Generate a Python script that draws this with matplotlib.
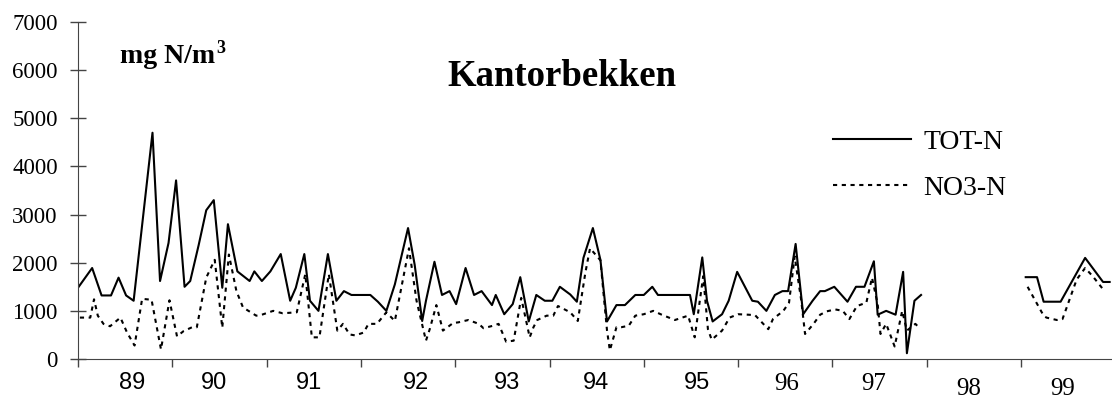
import numpy as np
import matplotlib
matplotlib.use("Agg")
import matplotlib.pyplot as plt
from matplotlib import transforms

nan = np.nan

# Kantorbekken: total nitrogen and nitrate, mg N/m3 (gap = no samples in 1998)
tot_t = [1989.00, 1989.15, 1989.25, 1989.35, 1989.43, 1989.51, 1989.59, 1989.79, 1989.87, 1989.96,
         1990.04, 1990.13, 1990.19, 1990.28, 1990.36, 1990.44, 1990.53, 1990.59, 1990.69, 1990.82, 1990.87, 1990.95,
         1991.04, 1991.15, 1991.25, 1991.31, 1991.40, 1991.46, 1991.55, 1991.65, 1991.74, 1991.82, 1991.90,
         1992.10, 1992.18, 1992.27, 1992.36, 1992.50, 1992.57, 1992.65, 1992.69, 1992.78, 1992.86, 1992.94,
         1993.01, 1993.11, 1993.20, 1993.28, 1993.39, 1993.43, 1993.52, 1993.61, 1993.69, 1993.78, 1993.86, 1993.95,
         1994.03, 1994.11, 1994.22, 1994.29, 1994.36, 1994.46, 1994.54, 1994.61, 1994.71, 1994.80, 1994.91,
         1995.00, 1995.09, 1995.15, 1995.49, 1995.53, 1995.62, 1995.67, 1995.73, 1995.83, 1995.90, 1995.99,
         1996.15, 1996.21, 1996.30, 1996.39, 1996.47, 1996.53, 1996.61, 1996.69, 1996.79, 1996.87, 1996.92,
         1997.02, 1997.16, 1997.25, 1997.34, 1997.44, 1997.48, 1997.57, 1997.67, 1997.75, 1997.79, 1997.87, 1997.94,
         nan,
         1999.05, 1999.17, 1999.24, 1999.42, 1999.68, 1999.87, 1999.94]
tot_n = [1480, 1890, 1320, 1320, 1690, 1320, 1210, 4700, 1620, 2410,
         3710, 1500, 1620, 2370, 3090, 3300, 1480, 2800, 1820, 1620, 1820, 1620,
         1820, 2180, 1210, 1480, 2180, 1210, 1000, 2180, 1210, 1410, 1330,
         1330, 1190, 1000, 1550, 2720, 1960, 790, 1210, 2020, 1330, 1410,
         1140, 1890, 1330, 1410, 1120, 1330, 930, 1140, 1700, 780, 1330, 1210,
         1210, 1500, 1340, 1190, 2100, 2720, 2060, 780, 1120, 1120, 1330,
         1330, 1500, 1330, 1330, 930, 2110, 1210, 780, 930, 1210, 1810,
         1210, 1190, 1000, 1330, 1410, 1410, 2390, 930, 1210, 1410, 1410,
         1500, 1190, 1500, 1500, 2030, 920, 1000, 920, 1810, 120, 1210, 1330,
         nan,
         1700, 1700, 1190, 1190, 2100, 1600, 1600]

no3_t = [1989.02, 1989.13, 1989.17, 1989.21, 1989.27, 1989.34, 1989.45, 1989.52, 1989.60, 1989.68, 1989.78, 1989.88, 1989.97,
         1990.05, 1990.12, 1990.21, 1990.26, 1990.36, 1990.45, 1990.53, 1990.60, 1990.68, 1990.75, 1990.89, 1990.95,
         1991.07, 1991.17, 1991.32, 1991.41, 1991.48, 1991.56, 1991.66, 1991.75, 1991.81, 1991.88, 1991.94,
         1992.03, 1992.08, 1992.17, 1992.27, 1992.36, 1992.51, 1992.59, 1992.69, 1992.73, 1992.80, 1992.87, 1992.98,
         1993.03, 1993.14, 1993.25, 1993.30, 1993.40, 1993.46, 1993.54, 1993.62, 1993.70, 1993.79, 1993.83, 1993.87, 1993.97,
         1994.04, 1994.09, 1994.22, 1994.30, 1994.38, 1994.43, 1994.54, 1994.61, 1994.64, 1994.71, 1994.76, 1994.84, 1994.91,
         1995.00, 1995.10, 1995.19, 1995.33, 1995.47, 1995.54, 1995.63, 1995.68, 1995.72, 1995.83, 1995.91,
         1996.00, 1996.11, 1996.18, 1996.32, 1996.37, 1996.48, 1996.54, 1996.60, 1996.67, 1996.71, 1996.80, 1996.87, 1996.94,
         1997.03, 1997.11, 1997.18, 1997.26, 1997.36, 1997.42, 1997.48, 1997.51, 1997.57, 1997.62, 1997.66, 1997.74, 1997.79, 1997.88, 1997.90,
         nan,
         1999.07, 1999.24, 1999.27, 1999.38, 1999.44, 1999.49, 1999.59, 1999.68, 1999.76, 1999.89]
no3_n = [860, 860, 1240, 900, 730, 680, 860, 550, 280, 1250, 1230, 200, 1220,
         470, 580, 660, 660, 1690, 2060, 650, 2170, 1410, 1070, 900, 920,
         1000, 950, 970, 1760, 450, 450, 1760, 590, 730, 510, 490,
         550, 730, 730, 970, 790, 2300, 1210, 380, 620, 1120, 590, 750,
         760, 810, 730, 640, 690, 730, 360, 380, 1270, 450, 660, 810, 900,
         900, 1100, 970, 790, 1790, 2300, 2050, 590, 180, 660, 660, 690, 900,
         930, 1000, 920, 810, 900, 450, 1720, 620, 400, 590, 860,
         930, 920, 910, 620, 830, 1000, 1170, 2130, 1210, 520, 730, 920, 990,
         1030, 1000, 830, 1100, 1170, 1690, 1140, 520, 730, 470, 260, 1000, 590, 730, 690,
         nan,
         1500, 900, 860, 810, 830, 1100, 1650, 1890, 1720, 1400]

years = [1989, 1990, 1991, 1992, 1993, 1994, 1995, 1996, 1997, 1998, 1999]
year_labels = ["89", "90", "91", "92", "93", "94", "95", "96", "97", "98", "99"]
y_ticks = [0, 1000, 2000, 3000, 4000, 5000, 6000, 7000]

W, H = 1112, 407
fig = plt.figure(figsize=(W / 100, H / 100), dpi=100)
ax = fig.add_axes([78 / W, (H - 359) / H, (W - 78) / W, (359 - 22) / H])

ax.plot(tot_t, tot_n, color="black", lw=1.5, label="TOT-N")
ax.plot(no3_t, no3_n, color="black", lw=1.5, linestyle=(0, (2.0, 2.2)), label="NO3-N")

ax.set_xlim(1989, 1989 + (W - 78) / 94.3)
ax.set_ylim(0, 7000)
for s in ["top", "right"]:
    ax.spines[s].set_visible(False)
ax.spines["left"].set_color("#444444")
ax.spines["bottom"].set_color("#444444")

ax.set_yticks(y_ticks)
ax.set_yticklabels([str(v) for v in y_ticks], family="Liberation Serif", fontsize=16.5)
ax.tick_params(axis="y", direction="inout", length=11, width=1, color="#444444", pad=9)

ax.set_xticks(years)
ax.set_xticklabels([])
ax.tick_params(axis="x", direction="out", length=6, width=1, color="#444444")

# year labels sit between ticks; first seven sans, the rest serif
trans = transforms.blended_transform_factory(ax.transData, fig.transFigure)
shift = [0.07, -0.06, -0.05, 0.08, 0.05, -0.01, 0.06, 0.01, -0.06, -0.05, -0.06]
for i, (yr, lab) in enumerate(zip(years, year_labels)):
    if i < 7:
        ax.text(yr + 0.5 + shift[i], 1 - 383 / H, lab, transform=trans, ha="center", va="center",
                family="Liberation Sans", fontsize=17)
    else:
        ypix = 384 if i < 9 else 389
        ax.text(yr + 0.5 + shift[i], 1 - ypix / H, lab, transform=trans, ha="center", va="center",
                family="Liberation Serif", fontsize=18)

fig.text(562 / W, 1 - 86 / H, "Kantorbekken", ha="center", va="baseline",
         family="Liberation Serif", fontweight="bold", fontsize=26.5)

# unit label with the exponent tucked against the last letter
unit = fig.text(120 / W, 1 - 63 / H, "mg N/m", ha="left", va="baseline",
                family="Liberation Serif", fontweight="bold", fontsize=20)
fig.canvas.draw()
bb = unit.get_window_extent()
fig.text((bb.x1 + 1) / W, 1 - 53 / H, "3", ha="left", va="baseline",
         family="Liberation Serif", fontweight="bold", fontsize=13)

ax.legend(loc="center left", bbox_to_anchor=(833 / W, 1 - 165 / H), bbox_transform=fig.transFigure,
          frameon=False, handlelength=2.8, handletextpad=0.45, labelspacing=0.75,
          borderpad=0, borderaxespad=0, prop={"family": "Liberation Serif", "size": 20})

fig.savefig("out.png", dpi=100)
